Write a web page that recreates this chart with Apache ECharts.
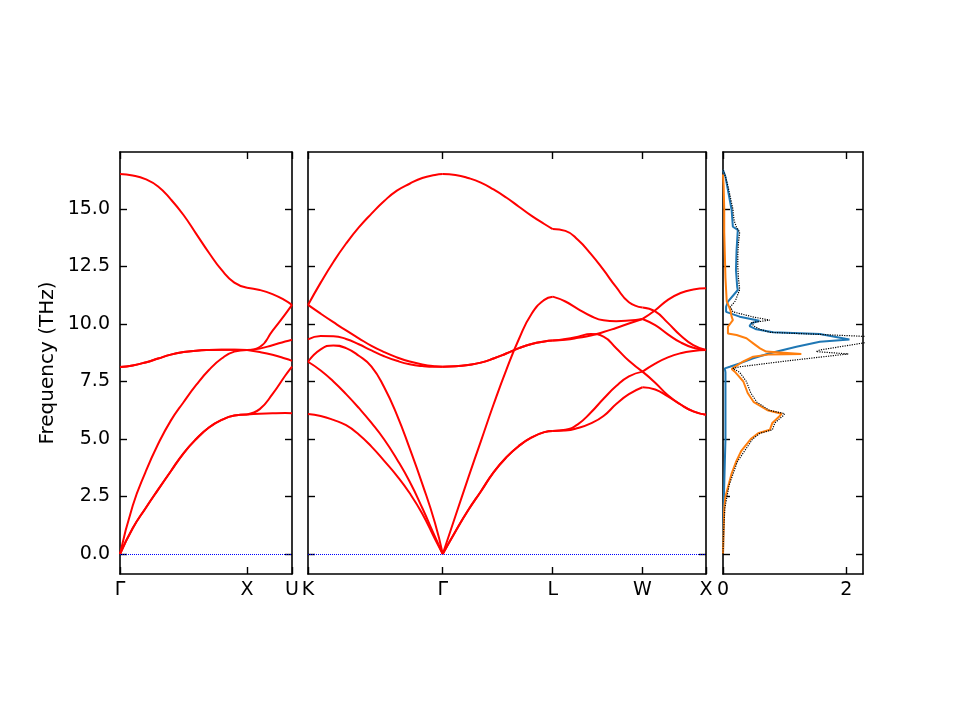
<!DOCTYPE html>
<html>
<head>
<meta charset="utf-8">
<title>Phonon band structure and DOS</title>
<script src="https://cdn.jsdelivr.net/npm/echarts@6.0.0/dist/echarts.min.js"></script>
<style>
  html, body { margin: 0; padding: 0; background: #fff; }
  #chart { width: 960px; height: 720px; }
</style>
</head>
<body>
<div id="chart"></div>
<script>
// path Γ-X-U (distance in 2π/a)
var kLeft = [0, 0.1, 0.2, 0.3, 0.4, 0.5, 0.6, 0.7, 0.8, 0.9, 1.0, 1.1, 1.2, 1.3, 1.354];
var leftBreaks = [0, 10, 14];
var leftTickPos = [0, 1.0, 1.354];
var leftTickLabels = ['Γ', 'X', 'U'];

var left1 = [16.52, 16.46, 16.3, 15.98, 15.42, 14.74, 13.92, 13.1, 12.35, 11.8, 11.58, 11.48, 11.3, 11.03, 10.83];
var left2 = [8.13, 8.2, 8.33, 8.5, 8.67, 8.78, 8.84, 8.87, 8.88, 8.88, 8.87, 9.0, 9.7, 10.42, 10.83];
var left3 = [8.13, 8.2, 8.33, 8.5, 8.67, 8.78, 8.84, 8.87, 8.88, 8.88, 8.87, 8.93, 9.08, 9.24, 9.32];
var left4 = [0, 2.1, 3.55, 4.78, 5.8, 6.6, 7.35, 8.0, 8.5, 8.8, 8.87, 8.78, 8.66, 8.5, 8.4];
var left5 = [0, 1.12, 1.98, 2.8, 3.6, 4.38, 5.0, 5.5, 5.83, 6.02, 6.07, 6.3, 6.95, 7.75, 8.15];
var left6 = [0, 1.12, 1.98, 2.8, 3.6, 4.38, 5.0, 5.5, 5.83, 6.02, 6.07, 6.1, 6.12, 6.13, 6.12];

// path K-Γ-L-W-X
var kMid = [0, 0.1, 0.2, 0.3, 0.4, 0.5, 0.6, 0.7, 0.8, 0.9, 1.0, 1.061,
  1.161, 1.261, 1.361, 1.461, 1.561, 1.661, 1.761, 1.861, 1.927,
  2.027, 2.127, 2.227, 2.327, 2.427, 2.527, 2.634,
  2.734, 2.834, 2.934, 3.034, 3.134];
var midBreaks = [0, 11, 20, 27, 32];
var midTickPos = [0, 1.061, 1.927, 2.634, 3.134];
var midTickLabels = ['K', 'Γ', 'L', 'W', 'X'];

var midA = [10.83, 11.8, 12.7, 13.5, 14.2, 14.8, 15.35, 15.8, 16.1, 16.35, 16.48, 16.52,
  16.48, 16.35, 16.15, 15.85, 15.5, 15.1, 14.7, 14.35, 14.13,
  14.05, 13.65, 13.05, 12.35, 11.6, 10.95, 10.72,
  10.55, 10.05, 9.5, 9.08, 8.87];
var midB = [10.83, 10.45, 10.08, 9.72, 9.38, 9.05, 8.78, 8.55, 8.37, 8.24, 8.16, 8.14,
  8.16, 8.22, 8.32, 8.5, 8.72, 8.95, 9.13, 9.24, 9.28,
  9.32, 9.4, 9.5, 9.65, 9.83, 10.02, 10.22,
  10.6, 11.05, 11.35, 11.5, 11.55];
var midC = [9.33, 9.48, 9.47, 9.35, 9.12, 8.85, 8.6, 8.4, 8.25, 8.17, 8.14, 8.14,
  8.16, 8.22, 8.32, 8.5, 8.72, 8.95, 9.13, 9.24, 9.28,
  9.35, 9.45, 9.57, 9.45, 8.95, 8.4, 7.93,
  7.45, 6.9, 6.5, 6.2, 6.05];
var midD = [8.36, 8.9, 9.07, 8.95, 8.62, 8.15, 7.25, 6.05, 4.6, 3.05, 1.35, 0,
  1.65, 3.3, 4.9, 6.5, 8.0, 9.35, 10.45, 11.05, 11.19,
  10.98, 10.65, 10.35, 10.16, 10.12, 10.15, 10.22,
  9.95, 9.55, 9.2, 8.97, 8.87];
var midE = [8.36, 7.98, 7.5, 6.95, 6.35, 5.7, 4.98, 4.12, 3.15, 2.0, 0.75, 0,
  0.98, 1.9, 2.72, 3.55, 4.2, 4.7, 5.07, 5.3, 5.35,
  5.4, 5.65, 6.15, 6.75, 7.3, 7.72, 7.93,
  8.28, 8.55, 8.73, 8.83, 8.87];
var midF = [6.09, 6.0, 5.83, 5.6, 5.2, 4.67, 4.05, 3.4, 2.65, 1.75, 0.65, 0,
  0.98, 1.9, 2.72, 3.55, 4.2, 4.7, 5.07, 5.3, 5.35,
  5.37, 5.48, 5.68, 6.0, 6.52, 6.95, 7.25,
  7.15, 6.85, 6.5, 6.2, 6.05];

// density of states
var orangeFreq = [0, 1, 2, 2.5, 3, 3.5, 4, 4.5, 5, 5.25, 5.4, 5.7, 6.0, 6.1, 6.25, 6.6, 7.0, 7.5, 7.78, 7.93,
  8.04, 8.14, 8.36, 8.58, 8.68, 8.7, 8.8, 8.94, 9.16, 9.38, 9.52, 9.59, 9.88, 10.17, 10.32, 10.6, 11.0, 12, 13, 14,
  15, 16, 16.5];
var orangeDos = [0, 0.01, 0.02, 0.04, 0.09, 0.14, 0.21, 0.3, 0.45, 0.57, 0.76, 0.8, 0.92, 0.95, 0.72, 0.5, 0.4, 0.33, 0.24, 0.19,
  0.14, 0.19, 0.32, 0.49, 0.76, 1.27, 0.7, 0.6, 0.49, 0.38, 0.22, 0.08, 0.08, 0.16, 0.14, 0.12, 0.06, 0.04, 0.03, 0.02,
  0.02, 0.01, 0];
var blueFreq = [0, 2, 3, 4, 5, 6, 7, 7.9, 8.07, 8.14, 8.29, 8.51, 8.73, 9.01, 9.23, 9.33, 9.57, 9.64, 9.77, 9.91,
  10.03, 10.14, 10.32, 10.53, 10.75, 10.97, 11.48, 11.62, 12.35, 13.22, 14.09, 14.23, 14.96, 15.83, 16.4, 16.7];
var blueDos = [0, 0.01, 0.02, 0.03, 0.04, 0.04, 0.04, 0.04, 0.03, 0.11, 0.27, 0.49, 0.76, 1.19, 1.57, 2.05, 1.57, 0.81, 0.54, 0.43,
  0.46, 0.59, 0.27, 0.05, 0.05, 0.08, 0.24, 0.23, 0.21, 0.22, 0.24, 0.16, 0.14, 0.08, 0.04, 0];
var totalFreq = [0, 1, 2, 3, 4, 5, 5.25, 5.4, 5.7, 6.0, 6.1, 6.25, 6.6, 7.0, 7.5, 7.9, 8.07, 8.14, 8.4, 8.7,
  8.8, 8.87, 9.23, 9.45, 9.64, 9.77, 9.91, 10.06, 10.17, 10.3, 10.53, 10.75, 11.0, 11.5, 12, 12.5, 13, 13.5, 14, 14.2,
  14.5, 15, 15.5, 16, 16.5, 16.7];
var totalDos = [0, 0.01, 0.03, 0.1, 0.23, 0.48, 0.6, 0.8, 0.84, 0.97, 1.0, 0.75, 0.55, 0.45, 0.38, 0.27, 0.16, 0.27, 1.05, 2.03,
  1.51, 1.57, 2.4, 2.4, 0.76, 0.6, 0.5, 0.46, 0.76, 0.5, 0.16, 0.12, 0.2, 0.27, 0.25, 0.24, 0.24, 0.25, 0.27, 0.22,
  0.18, 0.16, 0.12, 0.08, 0.03, 0];
var dosTickPos = [0, 2];

var yTicks = [0, 2.5, 5, 7.5, 10, 12.5, 15];
var fMin = -0.87, fMax = 17.48;
var FONT = 'DejaVu Sans';

var myChart = echarts.init(document.getElementById('chart'));

function makeY(gridIndex, position, showLabel) {
  return {
    type: 'value', gridIndex: gridIndex, position: position,
    min: fMin, max: fMax,
    axisLine: {show: true, onZero: false, lineStyle: {color: '#000', width: 1.6}},
    axisTick: {show: true, inside: true, length: 7, customValues: yTicks, lineStyle: {color: '#000', width: 1.4}},
    axisLabel: {
      show: showLabel, customValues: yTicks, margin: 10,
      formatter: function (v) { return v.toFixed(1); },
      color: '#000', fontFamily: FONT, fontSize: 19
    },
    splitLine: {show: false},
    name: showLabel ? 'Frequency (THz)' : '',
    nameLocation: 'middle', nameGap: 62, nameRotate: 90,
    nameTextStyle: {color: '#000', fontFamily: FONT, fontSize: 20}
  };
}

function makeX(gridIndex, position, max, ticks, labels) {
  return {
    type: 'value', gridIndex: gridIndex, position: position,
    min: 0, max: max,
    axisLine: {show: true, onZero: false, lineStyle: {color: '#000', width: 1.6}},
    axisTick: {show: true, inside: true, length: 7, customValues: ticks, lineStyle: {color: '#000', width: 1.4}},
    axisLabel: {
      show: position === 'bottom', customValues: ticks, margin: 7,
      formatter: function (v) {
        for (var i = 0; i < ticks.length; i++) {
          if (Math.abs(ticks[i] - v) < 1e-6) return labels[i];
        }
        return '';
      },
      color: '#000', fontFamily: FONT, fontSize: 19
    },
    splitLine: {show: false}
  };
}

var zeroLine = {
  silent: true, symbol: 'none', label: {show: false},
  lineStyle: {color: '#0000ff', type: 'dotted', width: 1},
  data: [{yAxis: 0}]
};

var series = [];

// one line per band per segment, so the cusps at the special points stay sharp
function addBands(ks, bands, breaks, axisIndex) {
  bands.forEach(function (band, b) {
    for (var s = 0; s < breaks.length - 1; s++) {
      var pts = [];
      for (var i = breaks[s]; i <= breaks[s + 1]; i++) pts.push([ks[i], band[i]]);
      var item = {
        type: 'line', xAxisIndex: axisIndex, yAxisIndex: axisIndex,
        data: pts, showSymbol: false, smooth: 0.5, silent: true,
        lineStyle: {color: '#ff0000', width: 2}
      };
      if (b === 0 && s === 0) item.markLine = zeroLine;
      series.push(item);
    }
  });
}

addBands(kLeft, [left1, left2, left3, left4, left5, left6], leftBreaks, 0);
addBands(kMid, [midA, midB, midC, midD, midE, midF], midBreaks, 2);

function dosSeries(freq, dos, style) {
  return {
    type: 'line', xAxisIndex: 4, yAxisIndex: 4, silent: true,
    data: freq.map(function (f, i) { return [dos[i], f]; }),
    showSymbol: false, lineStyle: style
  };
}
series.push(dosSeries(blueFreq, blueDos, {color: '#1f77b4', width: 2}));
series.push(dosSeries(orangeFreq, orangeDos, {color: '#ff7f0e', width: 2}));
series.push(dosSeries(totalFreq, totalDos, {color: '#000', width: 1.2, type: 'dotted'}));

myChart.setOption({
  animation: false,
  backgroundColor: '#fff',
  grid: [
    {left: 120, top: 152, width: 172, height: 422},
    {left: 308, top: 152, width: 398, height: 422},
    {left: 723, top: 152, width: 140, height: 422}
  ],
  xAxis: [
    makeX(0, 'bottom', 1.354, leftTickPos, leftTickLabels),
    makeX(0, 'top', 1.354, leftTickPos, leftTickLabels),
    makeX(1, 'bottom', 3.134, midTickPos, midTickLabels),
    makeX(1, 'top', 3.134, midTickPos, midTickLabels),
    makeX(2, 'bottom', 2.27, dosTickPos, ['0', '2']),
    makeX(2, 'top', 2.27, dosTickPos, ['0', '2'])
  ],
  yAxis: [
    makeY(0, 'left', true),
    makeY(0, 'right', false),
    makeY(1, 'left', false),
    makeY(1, 'right', false),
    makeY(2, 'left', false),
    makeY(2, 'right', false)
  ],
  series: series
});
</script>
</body>
</html>
